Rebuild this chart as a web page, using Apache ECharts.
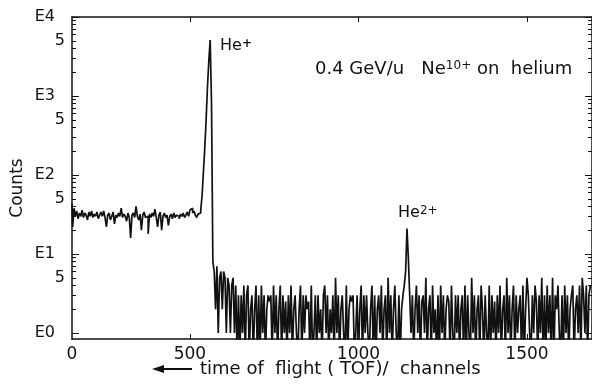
<!DOCTYPE html>
<html>
<head>
<meta charset="utf-8">
<script src="https://cdn.jsdelivr.net/npm/echarts@6/dist/echarts.min.js"></script>
<style>
  html, body { margin: 0; padding: 0; background: #fff; }
  #chart { width: 592px; height: 384px; }
</style>
</head>
<body>
<div id="chart"></div>
<script>
// TOF spectrum, counts in 4-channel bins
const channelStart = 150
const channelWidth = 4

// flat region before the He+ peak (channels 150..526)
const baselineCounts = [
  44, 22, 38, 30, 35, 28, 33, 30, 36, 29, 33, 31, 27, 34, 30, 35, 29, 32, 30, 34,
  28, 31, 34, 30, 35, 29, 22, 31, 33, 27, 30, 34, 24, 31, 29, 33, 30, 38, 29, 32,
  30, 26, 33, 29, 16, 31, 33, 29, 40, 30, 27, 32, 20, 31, 34, 29, 30, 18, 32, 29,
  33, 30, 37, 29, 22, 31, 34, 20, 30, 33, 29, 31, 23, 30, 32, 28, 33, 29, 31, 30,
  28, 32, 30, 33, 29, 31, 34, 30, 36, 38, 33, 35, 31, 29, 32
]
// He+ peak (channels 530..570)
const hePlusCounts = [33, 36, 55, 110, 220, 500, 1300, 2800, 5100, 800, 8]
// background after the peak (channels 574..1138)
const tailCountsA = [
  6, 2, 7, 1, 5, 6, 2, 6, 5, 1, 5, 4, 1, 4, 5, 1, 4, 0, 3, 0,
  3, 1, 4, 0, 3, 4, 0, 2, 3, 0, 2, 4, 0, 3, 0, 4, 1, 3, 0, 2,
  3, 2.5, 3, 0, 4, 1, 3, 0, 2, 4, 0, 3, 1, 2.5, 0, 3, 1, 4, 0, 2,
  3, 1, 0, 2, 4, 0, 3, 1, 3, 2, 2.5, 0, 4, 0, 1, 3, 0, 3, 1, 2,
  0, 3, 4, 1, 3, 0, 2, 1, 3, 0, 5, 1, 3, 0, 2, 3, 1, 0, 4, 0,
  2, 3, 2.5, 3, 0, 1, 3, 0, 2, 4, 0, 3, 1, 3, 1, 0, 2, 4, 0, 3,
  0, 2, 3, 1, 4, 0, 2, 3, 0, 5, 1, 3, 0, 2, 4, 1, 0, 3, 0, 2,
  3, 4
]
// He2+ peak (channels 1142..1154)
const heTwoPlusCounts = [6, 21, 9, 3]
// background (channels 1158..1690)
const tailCountsB = [
  1, 3, 0, 2, 4, 1, 3, 0, 2.5, 3, 1, 5, 0, 2, 3, 0, 4, 1, 2, 0,
  3, 0, 4, 1, 3, 0, 2, 3, 2.5, 0, 4, 1, 0, 3, 1, 3, 0, 2, 3, 0,
  4, 0, 3, 1, 0, 5, 1, 3, 0, 2, 3, 0, 4, 2, 0, 3, 1, 0, 4, 0,
  3, 1, 2.5, 0, 3, 1, 4, 0, 2, 3, 0, 5, 1, 3, 0, 2, 4, 0, 3, 1,
  2, 3, 0, 4, 0, 2, 5, 3, 1, 0, 3, 1, 4, 2.5, 0, 3, 1, 5, 0, 3,
  0, 4, 1, 3, 0, 5, 0, 3, 2, 4, 1, 0, 3, 0, 4, 1, 3, 0, 2, 3,
  4, 0, 2, 3, 1, 4, 0, 5, 3, 1, 4, 0, 3, 4
]

const xTickValues = [500, 1000, 1500]
const xLabelValues = [150, 500, 1000, 1500]
const yLabelValues = [1, 5, 10, 50, 100, 500, 1000, 5000, 10000]
const yMajorTicks = [1, 10, 100, 1000, 10000]
const yMinorTicks = [
  2, 3, 4, 5, 6, 7, 8, 9,
  20, 30, 40, 50, 60, 70, 80, 90,
  200, 300, 400, 500, 600, 700, 800, 900,
  2000, 3000, 4000, 5000, 6000, 7000, 8000, 9000
]

const counts = [].concat(baselineCounts, hePlusCounts, tailCountsA, heTwoPlusCounts, tailCountsB)
// zero counts cannot sit on a log axis: push them below the frame so the clip cuts them
const points = counts.map((c, i) => [channelStart + i * channelWidth, c > 0 ? c : 0.5])

const FONT = 'DejaVu Sans'
const BLACK = '#111'

const chart = echarts.init(document.getElementById('chart'), null, { renderer: 'canvas' })

const logAxis = (extra) => Object.assign({
  type: 'log',
  min: 0.84,
  max: 10000,
  logBase: 10,
  splitLine: { show: false },
  minorTick: { show: false },
  axisLabel: { show: false },
  axisLine: { show: false },
}, extra)

const valueAxis = (extra) => Object.assign({
  type: 'value',
  min: 150,
  max: 1693,
  splitLine: { show: false },
  axisLine: { show: true, lineStyle: { color: BLACK, width: 1.5 } },
  axisTick: { show: true, inside: true, length: 5, customValues: xTickValues, lineStyle: { color: BLACK } },
  axisLabel: { show: false },
}, extra)

chart.setOption({
  animation: false,
  backgroundColor: '#fff',
  grid: { left: 72, right: -1, top: 17, bottom: 45 },
  xAxis: [
    valueAxis({
      position: 'bottom',
      axisLabel: {
        customValues: xLabelValues,
        formatter: (v) => (v === 150 ? '0' : String(v)),
        color: BLACK,
        fontFamily: FONT,
        fontSize: 17,
        margin: 7,
      },
    }),
    valueAxis({ position: 'top' }),
  ],
  yAxis: [
    logAxis({
      position: 'left',
      axisLine: { show: true, lineStyle: { color: BLACK, width: 1.5 } },
      axisTick: { show: true, inside: true, length: 7, customValues: yMajorTicks, lineStyle: { color: BLACK } },
      axisLabel: {
        show: true,
        customValues: yLabelValues,
        formatter: (v) => {
          const e = Math.round(Math.log10(v))
          return Math.abs(v - Math.pow(10, e)) < 1e-6 ? '{e|E' + e + '}' : '5'
        },
        color: BLACK,
        fontFamily: FONT,
        fontSize: 16,
        margin: 7,
        rich: { e: { fontFamily: FONT, fontSize: 16, color: BLACK, padding: [0, 10, 0, 0] } },
      },
    }),
    logAxis({
      position: 'left',
      axisTick: { show: true, inside: true, length: 4, customValues: yMinorTicks, lineStyle: { color: BLACK } },
    }),
    logAxis({
      position: 'right',
      axisLine: { show: true, lineStyle: { color: BLACK, width: 1.5 } },
      axisTick: { show: true, inside: true, length: 7, customValues: yMajorTicks, lineStyle: { color: BLACK } },
    }),
    logAxis({
      position: 'right',
      axisTick: { show: true, inside: true, length: 4, customValues: yMinorTicks, lineStyle: { color: BLACK } },
    }),
  ],
  series: [
    {
      type: 'line',
      xAxisIndex: 0,
      yAxisIndex: 0,
      data: points,
      step: 'middle',
      symbol: 'none',
      clip: true,
      lineStyle: { color: BLACK, width: 1.7 },
    },
  ],
  graphic: [
    {
      type: 'text',
      left: 315,
      top: 60,
      style: {
        text: '0.4 GeV/u   Ne{sup|10+} on  helium',
        font: '18px "DejaVu Sans"',
        fill: BLACK,
        rich: { sup: { fontSize: 12, fontFamily: FONT, fill: BLACK, verticalAlign: 'top' } },
      },
    },
    {
      type: 'text',
      left: 220,
      top: 38,
      style: {
        text: 'He{sup|+}',
        font: '16px "DejaVu Sans"',
        fill: BLACK,
        rich: { sup: { fontSize: 12, fontFamily: FONT, fill: BLACK, fontWeight: 'bold', verticalAlign: 'top' } },
      },
    },
    {
      type: 'text',
      left: 398,
      top: 205,
      style: {
        text: 'He{sup|2+}',
        font: '16px "DejaVu Sans"',
        fill: BLACK,
        rich: { sup: { fontSize: 12, fontFamily: FONT, fill: BLACK, verticalAlign: 'top' } },
      },
    },
    {
      type: 'text',
      x: 18,
      y: 188,
      rotation: Math.PI / 2,
      style: {
        text: 'Counts',
        font: '17px "DejaVu Sans"',
        fill: BLACK,
        align: 'center',
        verticalAlign: 'middle',
      },
    },
    // arrow in front of the axis title
    {
      type: 'line',
      shape: { x1: 160, y1: 369, x2: 192, y2: 369 },
      style: { stroke: BLACK, lineWidth: 2 },
    },
    {
      type: 'polygon',
      shape: { points: [[152, 369], [164, 365], [164, 373]] },
      style: { fill: BLACK },
    },
    {
      type: 'text',
      x: 200,
      y: 369,
      style: {
        text: 'time of  flight ( TOF)/  channels',
        font: '18px "DejaVu Sans"',
        fill: BLACK,
        align: 'left',
        verticalAlign: 'middle',
      },
    },
  ],
})
</script>
</body>
</html>
